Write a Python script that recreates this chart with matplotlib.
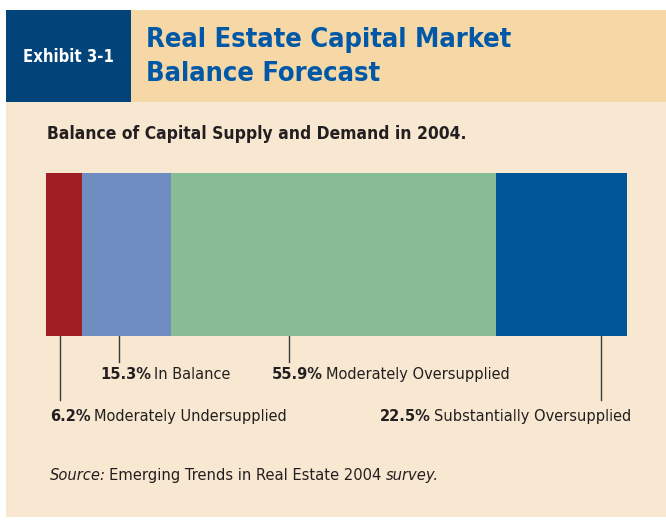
import matplotlib.pyplot as plt
from matplotlib.patches import Rectangle

# data
categories = ["Moderately Undersupplied", "In Balance",
              "Moderately Oversupplied", "Substantially Oversupplied"]
shares = [6.2, 15.3, 55.9, 22.5]
colors = ["#A01F25", "#6F8DC0", "#88BC94", "#005498"]

# where each leader line sits inside the bar (% of the bar) and which label row
leader_x = [2.4, 12.6, 41.8, 95.5]
label_row = [1, 0, 0, 1]
label_x = [50, 100, 272, 380]   # px, left edge of each label

plt.rcParams["font.family"] = ["DejaVu Sans"]
plt.rcParams["font.stretch"] = "condensed"
INK = "#231F20"

fig = plt.figure(figsize=(6.66, 5.22), dpi=100)
fig.patch.set_facecolor("white")

# full-figure canvas in pixel units for the frame and text
bg = fig.add_axes([0, 0, 1, 1])
bg.set_xlim(0, 666)
bg.set_ylim(522, 0)
bg.axis("off")

bg.add_patch(Rectangle((6, 102), 660, 415, color="#F8E8D1", lw=0))
bg.add_patch(Rectangle((6, 10), 660, 92, color="#F5D8A6", lw=0))
bg.add_patch(Rectangle((6, 10), 125, 92, color="#02437A", lw=0))

bg.text(68, 57, "Exhibit 3-1", color="white", fontsize=12, fontweight="bold",
        ha="center", va="center", fontstretch="condensed")
bg.text(146, 40, "Real Estate Capital Market", color="#0058A6", fontsize=19.5,
        fontweight="heavy", va="center", fontstretch="condensed")
bg.text(146, 74, "Balance Forecast", color="#0058A6", fontsize=19.5,
        fontweight="heavy", va="center", fontstretch="condensed")
bg.text(47, 134, "Balance of Capital Supply and Demand in 2004.", color=INK,
        fontsize=12.5, fontweight="bold", va="center", fontstretch="condensed")

# the stacked bar
ax = fig.add_axes([46 / 666, 1 - 336 / 522, 581 / 666, 163 / 522])
left = 0
for share, col in zip(shares, colors):
    ax.barh(0, share, left=left, height=1, color=col, lw=0)
    left += share
ax.set_xlim(0, sum(shares))
ax.set_ylim(-0.5, 0.5)
ax.axis("off")

# leader lines + labels
row_y = [379, 421]   # baselines
line_end = [362, 400]
for cat, share, lx, row, tx in zip(categories, shares, leader_x, label_row, label_x):
    px = 46 + lx / sum(shares) * 581
    bg.plot([px, px], [325, line_end[row]], color="#3a3a3a", lw=1)
    t = bg.text(tx, row_y[row], f"{share}%", fontsize=11.7, fontweight="bold",
                color=INK, va="baseline", fontstretch="condensed")
    bg.annotate(cat, xy=(1, 0), xycoords=t, xytext=(2.5, 0),
                textcoords="offset points", fontsize=11.7, color=INK,
                va="bottom", fontstretch="condensed")

src = bg.text(50, 480, "Source:", fontsize=11.8, style="italic", color=INK,
              va="baseline", fontstretch="condensed")
s2 = bg.annotate("Emerging Trends in Real Estate 2004", xy=(1, 0), xycoords=src,
                 xytext=(2.5, 0), textcoords="offset points", fontsize=11.8,
                 color=INK, va="bottom", fontstretch="condensed")
bg.annotate("survey.", xy=(1, 0), xycoords=s2, xytext=(3, 0),
            textcoords="offset points", fontsize=11.8, style="italic",
            color=INK, va="bottom", fontstretch="condensed")

fig.savefig("out.png", dpi=100)
